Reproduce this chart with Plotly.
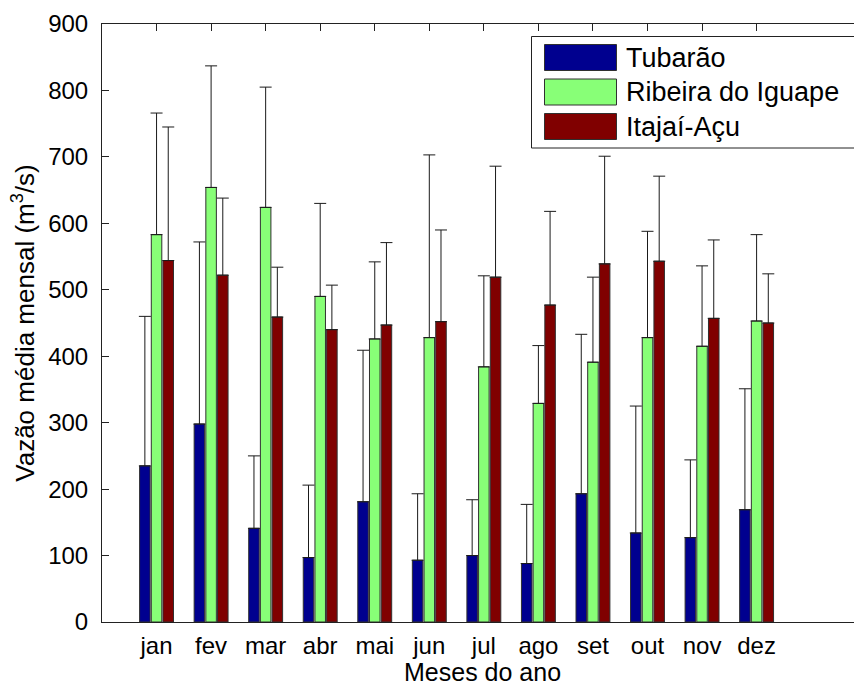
import plotly.graph_objects as go

# Monthly mean discharge (m³/s) and standard deviation for three basins
meses = ["jan", "fev", "mar", "abr", "mai", "jun", "jul", "ago", "set", "out", "nov", "dez"]
mes_idx = list(range(1, 13))

tubarao_media = [235, 298, 141, 97, 181, 93, 100, 88, 193, 134, 127, 169]
tubarao_dp = [225, 274, 109, 109, 228, 100, 84, 89, 240, 191, 117, 182]

ribeira_media = [583, 654, 624, 490, 426, 428, 384, 329, 391, 428, 415, 453]
ribeira_dp = [183, 183, 181, 140, 116, 275, 137, 87, 128, 160, 121, 130]

itajai_media = [544, 522, 459, 440, 447, 452, 519, 477, 539, 543, 457, 450]
itajai_dp = [201, 116, 75, 67, 124, 138, 167, 141, 162, 128, 118, 74]

series = [
    ("Tubarão", tubarao_media, tubarao_dp, "#00008F"),
    ("Ribeira do Iguape", ribeira_media, ribeira_dp, "#88FF77"),
    ("Itajaí-Açu", itajai_media, itajai_dp, "#800000"),
]

FONT = "Arial, 'Liberation Sans', sans-serif"

# Figure geometry (pixels)
W, H = 854, 688
ML, MT, MB = 102, 24, 66
PW, PH = W - ML, H - MT - MB
PX_PER_MONTH = 54.55

fig = go.Figure()
for nome, media, dp, cor in series:
    fig.add_trace(go.Bar(
        x=mes_idx, y=media, name=nome,
        marker=dict(color=cor, line=dict(color="#303030", width=1)),
        error_y=dict(type="data", array=dp, arrayminus=[0] * len(dp),
                     symmetric=False, color="#1a1a1a", thickness=1, width=6),
        showlegend=False,
    ))

# Helpers converting pixel positions to paper coordinates
def px_x(p):
    return (p - ML) / PW

def px_y(p):
    return (H - MB - p) / PH

# Legend box
shapes = [dict(type="rect", xref="paper", yref="paper",
               x0=px_x(531.5), x1=px_x(870), y0=px_y(148), y1=px_y(36.5),
               line=dict(color="#222222", width=1), fillcolor="white", layer="above")]
annotations = []
row_tops = [44.5, 79, 113.5]
for (nome, _, _, cor), top in zip(series, row_tops):
    shapes.append(dict(type="rect", xref="paper", yref="paper",
                       x0=px_x(544.5), x1=px_x(616.5), y0=px_y(top + 26), y1=px_y(top),
                       line=dict(color="#303030", width=1), fillcolor=cor, layer="above"))
    annotations.append(dict(xref="paper", yref="paper", x=px_x(624), y=px_y(top + 13),
                            text=nome, showarrow=False, xanchor="left", yanchor="middle",
                            font=dict(family=FONT, size=27, color="black")))

# x-axis title
annotations.append(dict(xref="paper", yref="paper", x=px_x(482), y=px_y(672),
                        text="Meses do ano", showarrow=False,
                        xanchor="center", yanchor="middle",
                        font=dict(family=FONT, size=25, color="black")))

fig.update_layout(
    width=W, height=H,
    margin=dict(l=ML, r=0, t=MT, b=MB, pad=0),
    paper_bgcolor="white", plot_bgcolor="white",
    barmode="group", bargap=0.357, bargroupgap=0.1,
    font=dict(family=FONT, size=24, color="black"),
    shapes=shapes, annotations=annotations,
    xaxis=dict(
        range=[0, PW / PX_PER_MONTH],
        tickmode="array", tickvals=mes_idx, ticktext=meses,
        ticks="inside", ticklen=7, tickcolor="#222222",
        showline=True, linecolor="#222222", linewidth=1, mirror="ticks",
        showgrid=False, zeroline=False, layer="below traces",
        tickfont=dict(size=24), ticklabelstandoff=2,
    ),
    yaxis=dict(
        range=[0, 900], tickmode="linear", tick0=0, dtick=100,
        ticks="inside", ticklen=7, tickcolor="#222222",
        showline=True, linecolor="#222222", linewidth=1, mirror=False,
        showgrid=False, zeroline=False,
        tickfont=dict(size=24), ticklabelstandoff=8,
        title=dict(text="Vazão média mensal (m<sup>3</sup>/s)", font=dict(size=26), standoff=6),
    ),
)

fig.write_html("out.html")
